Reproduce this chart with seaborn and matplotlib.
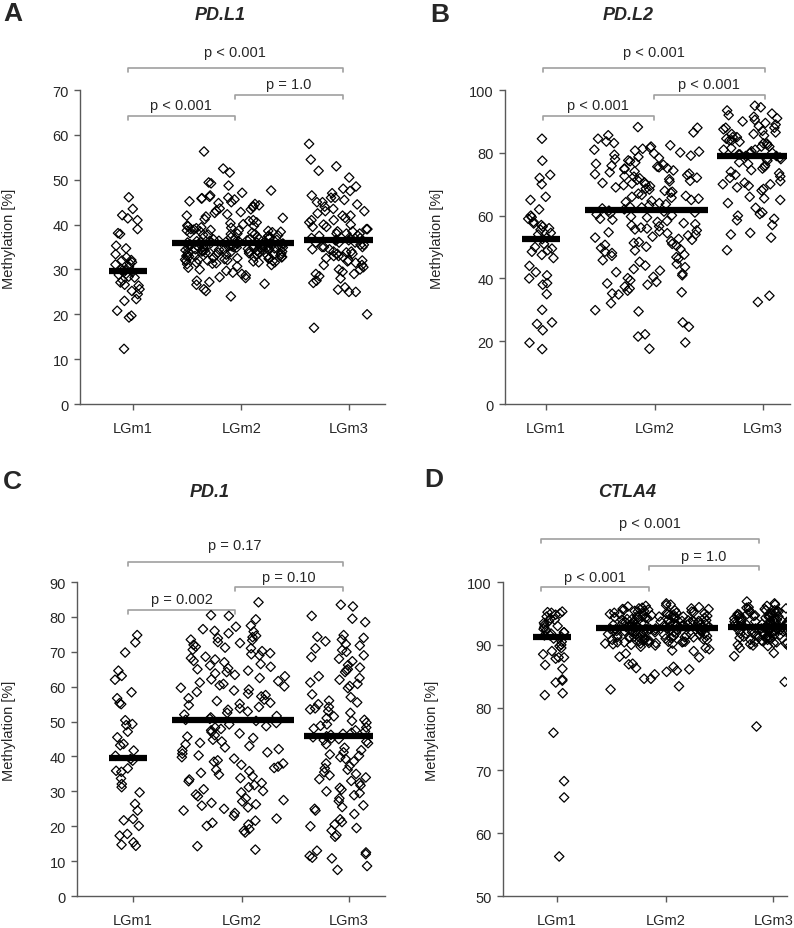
import numpy as np
import pandas as pd
import seaborn as sns
import matplotlib.pyplot as plt
from matplotlib.transforms import blended_transform_factory

sns.set_style("white")
plt.rcParams['font.family'] = ['Liberation Sans', 'DejaVu Sans']

groups = ['LGm1', 'LGm2', 'LGm3']

# ---- PD.L1 (panel A) ----
pdl1_lgm1 = [46.1, 43.5, 42.1, 41.4, 41.0, 39.0, 38.1, 37.9, 35.3, 34.7, 33.4, 32.7, 32.1, 32.0,
             31.6, 31.3, 31.1, 30.6, 30.1, 29.8, 29.7, 29.4, 29.0, 28.8, 28.4, 28.2, 27.6, 27.1,
             26.6, 26.4, 25.6, 25.2, 24.5, 23.4, 23.0, 20.8, 19.7, 19.3, 12.3]
pdl1_lgm2 = [56.3, 52.5, 51.6, 49.4, 49.2, 48.7, 47.6, 47.1, 46.5, 46.2, 46.0, 45.9, 45.8, 45.6,
             45.2, 45.0, 44.8, 44.6, 44.3, 44.1, 43.9, 43.6, 43.4, 43.1, 42.8, 42.6, 42.3, 42.0,
             41.8, 41.5, 41.2, 41.0, 40.8, 40.5, 40.3, 40.1,
             39.8, 39.6, 39.4, 39.2, 39.0, 38.9, 38.7, 38.5, 38.4, 38.2, 38.0, 37.9, 37.8, 37.6,
             37.5, 37.3, 37.2, 37.0, 36.9, 36.8, 36.6, 36.5, 36.4, 36.3, 36.2, 36.1, 36.0, 35.9,
             35.8, 35.8, 35.7, 35.6, 35.5, 35.4, 35.3, 35.2, 35.1, 35.0, 34.9, 34.8, 34.7, 34.6,
             34.5, 34.4, 34.3, 34.2, 34.1, 34.0, 33.9, 33.8, 33.6, 33.5, 33.3, 33.2, 33.0, 32.9,
             32.7, 32.5, 32.4, 32.2, 32.0, 31.8, 31.6, 31.4, 31.2, 31.0,
             35.9, 35.6, 35.3, 35.0, 34.6, 34.2, 33.8, 33.4, 33.0, 32.6, 32.3, 31.9, 31.5, 35.7,
             35.2, 34.9, 34.4, 34.0, 33.7, 33.1, 32.8,
             39.7, 39.3, 38.8, 38.6, 38.3, 38.1, 37.7, 37.4, 37.1, 36.7, 36.4, 36.1, 35.8, 35.5,
             35.2, 34.9, 34.6, 34.3, 34.0, 33.7, 33.4, 33.1, 32.8, 32.5, 32.2, 31.9, 31.6, 31.3,
             36.9, 36.3, 35.6, 35.0, 34.5, 33.9, 37.9, 38.7, 33.3, 32.1, 36.0, 35.4,
             30.7, 30.4, 30.0, 29.7, 29.3, 29.0, 28.7, 28.3, 28.1, 27.5, 27.2, 26.8, 26.6, 25.6,
             25.2, 24.0]
pdl1_lgm3 = [58.0, 54.5, 53.0, 52.0, 50.5, 48.5, 48.0, 47.5, 47.0, 46.5, 46.0, 46.0, 45.5, 45.0,
             45.0, 44.5, 44.0, 43.5, 43.0, 43.0, 42.5, 42.0, 42.0, 41.5, 41.0, 41.0, 40.5, 40.0,
             40.0, 39.5, 39.5, 39.0, 39.0, 38.5, 38.5, 38.0, 38.0, 38.0, 37.5, 37.5, 37.0, 37.0,
             37.0, 36.5, 36.5, 36.5, 36.0, 36.0, 36.0, 35.5, 35.5, 35.0, 35.0, 35.0, 34.5, 34.5,
             34.0, 34.0, 33.5, 33.5, 33.0, 33.0, 32.5, 32.0, 32.0, 31.5, 31.0, 31.0, 30.5, 30.0,
             30.0, 29.5, 29.0, 29.0, 28.5, 28.0, 27.5, 27.0, 26.0, 25.5, 25.0, 25.0, 20.0, 17.0,
             33.8, 32.8, 31.8]
pdl1_medians = [29.7, 35.8, 36.5]

# ---- PD.L2 (panel B) ----
pdl2_lgm1 = [84.5, 77.5, 73.0, 72.0, 70.0, 66.0, 65.0, 62.0, 60.0, 59.5, 59.0, 58.0, 57.5, 57.0,
             56.5, 56.0, 55.5, 54.5, 54.0, 53.0, 52.5, 51.0, 50.0, 49.5, 49.0, 48.5, 47.5, 46.5,
             44.0, 42.0, 41.0, 40.0, 38.5, 38.0, 35.0, 30.0, 26.0, 25.5, 23.5, 19.5, 17.5]
pdl2_lgm2 = [88.2, 88.0, 86.5, 85.6, 84.5, 83.6, 83.1, 82.4, 82.0, 81.6, 81.3, 81.0, 80.7, 80.4,
             80.1, 79.8, 79.4, 79.1, 78.7, 78.4, 78.0, 77.6, 77.3, 76.9, 76.5, 76.2, 75.9, 75.6,
             75.4, 75.1, 75.0, 74.8, 74.4, 74.1, 73.8, 73.4, 73.2, 72.9, 72.6, 72.4, 72.1, 71.9,
             71.6, 71.4, 71.1, 70.9, 70.6, 70.4, 70.2, 70.0, 69.7, 69.4, 69.0, 68.6, 68.3, 67.9,
             67.6, 67.3, 67.0, 66.6, 66.3, 66.0, 65.7, 65.4, 65.0, 64.7, 64.3, 64.0, 63.6, 63.3,
             62.9, 62.6, 62.3, 62.0, 61.6, 61.3, 61.0, 60.7, 60.4, 60.1, 59.7, 59.4, 59.0, 58.7,
             58.3, 58.0, 57.6, 57.3, 56.9, 56.6, 56.2, 55.9, 55.6, 55.3, 55.0, 54.7, 54.4, 54.0,
             53.7, 53.3, 53.0, 52.6, 52.3, 51.9, 51.6, 51.3, 51.0, 50.7, 50.4, 50.1, 49.7, 49.3,
             48.9, 48.5, 48.1, 47.6, 47.2, 46.8, 46.3, 45.8, 45.3, 44.6, 44.1, 43.6, 43.0, 42.5,
             42.0, 41.5, 41.0, 40.5, 40.1, 39.4, 38.9, 38.4, 38.0, 37.4, 36.8, 36.1, 35.6, 35.2,
             34.9, 32.1, 29.9, 29.5, 26.0, 24.6, 22.2, 21.5, 19.6, 17.6]
pdl2_lgm3 = [95.0, 94.5, 93.5, 92.5, 92.0, 91.5, 91.0, 90.5, 90.0, 89.5, 89.0, 88.5, 88.0, 88.0,
             87.5, 87.0, 86.5, 86.0, 86.0, 85.5, 85.0, 85.0, 84.5, 84.0, 84.0, 83.5, 83.0, 83.0,
             82.5, 82.0, 82.0, 81.5, 81.0, 81.0, 80.5, 80.0, 80.0, 79.5, 79.5, 79.0, 79.0, 78.5,
             78.0, 78.0, 77.5, 77.0, 76.5, 76.0, 75.5, 75.0, 74.5, 74.0, 73.5, 73.0, 72.5, 72.0,
             71.0, 70.5, 70.0, 70.0, 69.5, 69.0, 68.5, 68.0, 66.0, 65.5, 65.0, 64.0, 62.5, 61.0,
             60.5, 60.0, 59.0, 58.5, 57.0, 54.5, 54.0, 53.0, 49.0, 34.5, 32.5]
pdl2_medians = [52.5, 61.8, 79.0]

# ---- PD.1 (panel C) ----
pd1_lgm1 = [74.8, 72.7, 69.8, 64.6, 63.1, 62.0, 58.4, 56.7, 55.3, 55.0, 50.4, 49.3, 49.0, 47.1,
            45.5, 43.6, 43.2, 41.7, 40.2, 39.3, 38.8, 36.6, 35.9, 35.6, 33.7, 32.1, 31.2, 29.7,
            26.4, 24.5, 22.1, 21.7, 20.1, 17.8, 17.3, 15.4, 14.7, 14.4]
pd1_lgm2 = [84.2, 80.5, 80.3, 79.3, 77.5, 77.2, 76.5, 76.0, 75.8, 75.3, 74.6, 74.2, 73.9, 73.5,
            73.3, 72.8, 72.5, 72.0, 71.5, 71.2, 71.0, 70.6, 70.2, 69.6, 69.3, 69.0, 68.6, 68.2,
            67.8, 67.4, 67.0, 66.5, 66.1, 65.7, 65.3, 65.0, 64.6, 64.2, 63.8, 63.4, 63.0, 62.5,
            62.1, 61.6, 61.2, 60.8, 60.4, 60.1, 59.7, 59.2, 58.9, 58.5, 58.0, 57.6, 57.2, 56.7,
            56.3, 55.9, 55.4, 55.1, 54.7, 54.2, 53.8, 53.4, 52.9, 52.5, 52.0, 51.6, 51.2, 50.8,
            50.5, 50.2, 49.6, 49.2, 48.7, 48.3, 47.9, 47.5, 47.0, 46.6, 46.1, 45.7, 45.3, 44.8,
            44.3, 43.9, 43.5, 43.0, 42.6, 42.1, 41.7, 41.2, 40.8, 40.3, 39.8, 39.4, 38.9, 38.5,
            38.0, 37.6, 37.1, 36.7, 36.2, 35.8, 35.3, 34.8, 34.3, 33.8, 33.4, 32.9, 32.4, 31.8,
            31.2, 30.6, 30.1, 29.7, 29.1, 28.6, 28.0, 27.5, 27.1, 26.7, 26.3, 25.9, 25.4, 25.0,
            24.5, 23.8, 23.0, 22.2, 21.6, 21.0, 20.5, 20.1, 19.2, 18.7, 18.2, 14.3, 13.3]
pd1_lgm3 = [83.5, 83.0, 80.3, 79.5, 78.5, 74.8, 74.3, 74.0, 73.5, 73.0, 72.2, 71.8, 71.0, 70.5,
            70.0, 69.0, 68.5, 68.0, 67.3, 66.2, 65.5, 65.0, 64.7, 64.2, 63.0, 62.5, 62.0, 61.2,
            60.8, 60.2, 59.6, 57.8, 57.0, 56.0, 55.5, 55.0, 54.2, 53.8, 53.5, 53.0, 52.5, 51.5,
            51.0, 50.5, 50.2, 49.7, 49.2, 48.8, 48.3, 48.0, 47.5, 47.2, 46.8, 46.5, 46.2, 45.8,
            45.5, 45.2, 45.0, 44.7, 44.3, 43.8, 43.5, 42.5, 41.8, 41.2, 40.6, 40.2, 39.8, 39.3,
            38.6, 38.0, 37.3, 36.6, 36.2, 35.5, 35.0, 34.6, 34.0, 33.5, 33.0, 32.4, 31.7, 31.0,
            30.5, 30.0, 29.5, 28.9, 28.0, 27.2, 26.0, 25.5, 25.0, 24.5, 23.5, 22.0, 21.2, 20.5,
            20.0, 19.5, 18.8, 17.5, 17.0, 13.0, 12.5, 12.0, 11.5, 11.0, 10.8, 8.6, 7.5]
pd1_medians = [39.5, 50.5, 46.0]

# ---- CTLA4 (panel D) ----
ctla4_lgm1 = [95.3, 95.2, 95.1, 95.0, 94.8, 94.5, 94.2, 94.0, 93.8, 93.5, 93.2, 93.0, 92.8, 92.5,
              92.3, 92.0, 92.0, 91.8, 91.5, 91.5, 91.3, 91.0, 90.5, 90.0, 89.8, 89.5, 89.0, 88.5,
              88.0, 88.0, 87.8, 86.8, 86.2, 84.5, 84.3, 84.0, 82.3, 82.0, 76.0, 68.3, 65.7, 56.3]
ctla4_lgm2 = [96.6, 96.4, 96.2, 96.1, 96.0, 96.3,
              95.9, 95.8, 95.7, 95.6, 95.5, 95.4, 95.3, 95.2, 95.1, 95.0, 95.6, 95.3, 95.8, 95.1,
              94.9, 94.8, 94.7, 94.6, 94.5, 94.4, 94.3, 94.2, 94.1, 94.0, 94.8, 94.6, 94.4, 94.2,
              94.9, 94.5, 94.3, 94.1,
              93.9, 93.8, 93.7, 93.6, 93.5, 93.4, 93.3, 93.2, 93.1, 93.0, 93.9, 93.7, 93.5, 93.3,
              93.1, 93.8, 93.6, 93.4, 93.2, 93.0, 93.5, 93.3,
              92.9, 92.8, 92.7, 92.6, 92.5, 92.4, 92.3, 92.2, 92.1, 92.0, 92.9, 92.7, 92.5, 92.3,
              92.1, 92.8, 92.6, 92.4, 92.2, 92.0,
              91.9, 91.8, 91.7, 91.6, 91.5, 91.4, 91.3, 91.2, 91.1, 91.0, 91.9, 91.7, 91.5, 91.3,
              91.1, 91.8, 91.6, 91.4, 91.2, 91.0,
              90.9, 90.8, 90.7, 90.6, 90.5, 90.4, 90.3, 90.2, 90.1, 90.0, 90.8, 90.6, 90.4, 90.2,
              90.5, 90.3, 89.9, 89.7, 89.5, 89.3, 89.1, 89.0,
              95.4, 95.0, 94.7, 94.3, 94.0, 93.8, 93.5, 93.2, 92.9, 92.6, 92.3, 92.0, 91.7, 91.4,
              91.1, 90.8, 90.5, 90.2, 95.7, 94.9, 94.5, 93.9, 93.4, 93.0, 92.5, 92.1, 91.6, 91.2,
              90.7, 90.4,
              88.6, 88.1, 88.0, 87.0, 86.9, 86.5, 86.3, 86.1, 85.9, 85.7, 85.3, 84.6, 84.6, 83.4,
              82.9]
ctla4_lgm3 = [96.9, 96.6, 96.4, 96.2, 96.0, 95.9, 95.7, 95.6, 95.4, 95.3, 95.1, 95.0, 95.8, 95.5,
              95.2, 94.9, 94.8, 94.6, 94.5, 94.4, 94.2, 94.1, 94.0, 94.7, 94.3, 94.9, 94.5, 94.2,
              94.6, 93.9, 93.8, 93.7, 93.6, 93.5, 93.4, 93.3, 93.2, 93.1, 93.0, 93.8, 93.6, 93.4,
              93.2, 93.9, 93.5, 93.1, 92.9, 92.8, 92.7, 92.6, 92.5, 92.4, 92.3, 92.2, 92.1, 92.0,
              92.8, 92.6, 92.4, 92.2, 92.7, 92.3, 91.9, 91.8, 91.7, 91.5, 91.4, 91.3, 91.2, 91.0,
              91.8, 91.6, 91.4, 91.2, 91.9, 91.1, 90.9, 90.8, 90.6, 90.5, 90.3, 90.2, 90.0, 90.7,
              90.4, 90.1, 89.9, 89.7, 89.5, 89.8,
              95.5, 95.0, 94.6, 94.1, 93.7, 93.3, 92.9, 92.5, 92.0, 91.6, 91.2, 90.8, 90.3, 94.3,
              93.0, 91.9,
              88.7, 88.2, 84.1, 77.0]
ctla4_medians = [91.2, 92.7, 92.9]

# p-values: [LGm1 vs LGm2, LGm2 vs LGm3, LGm1 vs LGm3]
pdl1_p = ['p < 0.001', 'p = 1.0', 'p < 0.001']
pdl2_p = ['p < 0.001', 'p < 0.001', 'p < 0.001']
pd1_p = ['p = 0.002', 'p = 0.10', 'p = 0.17']
ctla4_p = ['p < 0.001', 'p = 1.0', 'p < 0.001']

panels = [
    dict(letter='A', title='PD.L1', data=[pdl1_lgm1, pdl1_lgm2, pdl1_lgm3], med=pdl1_medians,
         p=pdl1_p, ylim=(0, 70), yticks=range(0, 71, 10),
         rect=[0.1008, 0.5640, 0.3841, 0.3380], xlim=(-0.45, 2.44),
         br_y=[0.917, 0.984, 1.070], txt_y=[0.952, 1.019, 1.121], br_x=[0.0, 1.02, 2.04],
         title_xy=(220, 15), letter_xy=(13, 14), ylab_x=-0.21),
    dict(letter='B', title='PD.L2', data=[pdl2_lgm1, pdl2_lgm2, pdl2_lgm3], med=pdl2_medians,
         p=pdl2_p, ylim=(0, 100), yticks=range(0, 101, 20),
         rect=[0.6360, 0.5640, 0.3589, 0.3380], xlim=(-0.34, 2.36),
         br_y=[0.917, 0.984, 1.070], txt_y=[0.952, 1.019, 1.121], br_x=[0.02, 1.07, 2.12],
         title_xy=(628, 16), letter_xy=(440, 15), ylab_x=-0.214),
    dict(letter='C', title='PD.1', data=[pd1_lgm1, pd1_lgm2, pd1_lgm3], med=pd1_medians,
         p=pd1_p, ylim=(0, 90), yticks=range(0, 91, 10),
         rect=[0.0970, 0.0344, 0.3879, 0.3380], xlim=(-0.48, 2.44),
         br_y=[0.911, 0.984, 1.064], txt_y=[0.946, 1.016, 1.118], br_x=[0.0, 1.02, 2.04],
         title_xy=(210, 493), letter_xy=(12, 482), ylab_x=-0.198),
    dict(letter='D', title='CTLA4', data=[ctla4_lgm1, ctla4_lgm2, ctla4_lgm3], med=ctla4_medians,
         p=ctla4_p, ylim=(50, 100), yticks=range(50, 101, 10),
         rect=[0.6335, 0.0344, 0.3577, 0.3380], xlim=(-0.46, 2.23),
         br_y=[0.984, 1.051, 1.137], txt_y=[1.016, 1.083, 1.188], br_x=[-0.1, 0.92, 1.96],
         title_xy=(627, 493), letter_xy=(434, 480), ylab_x=-0.225),
]

jitter_w = [0.12, 0.5, 0.28]
median_hw = [0.18, 0.58, 0.33]
tick_x = [0.05, 1.08, 2.1]
axis_col = '#595959'
W, H = 794, 929

np.random.seed(3)
fig = plt.figure(figsize=(W / 100, H / 100), dpi=100)

for pan in panels:
    ax = fig.add_axes(pan['rect'])
    for i, g in enumerate(groups):
        df = pd.DataFrame({'group': g, 'value': pan['data'][i]})
        sns.stripplot(data=df, x='group', y='value', order=groups, jitter=jitter_w[i],
                      marker='D', size=4.8, color='black', linewidth=0.9, ax=ax, zorder=3)
    for coll in ax.collections:
        coll.set_facecolor('none')
        coll.set_edgecolor('black')
        coll.set_linewidth(0.9)
    for i, m in enumerate(pan['med']):
        ax.hlines(m, i - median_hw[i], i + median_hw[i], colors='black', linewidth=4.5, zorder=5)

    ax.set_xlim(*pan['xlim'])
    ax.set_ylim(*pan['ylim'])
    ax.set_yticks(list(pan['yticks']))
    ax.set_xticks(tick_x)
    ax.set_xticklabels(groups)
    ax.set_xlabel('')
    ax.set_ylabel('Methylation [%]', fontsize=10.5)
    ax.yaxis.set_label_coords(pan['ylab_x'], 0.53)
    sns.despine(ax=ax)
    for s in ['left', 'bottom']:
        ax.spines[s].set_color(axis_col)
        ax.spines[s].set_linewidth(1.0)
    ax.tick_params(axis='y', direction='out', length=4, width=1, color=axis_col,
                   labelsize=10.5, pad=4, left=True)
    ax.tick_params(axis='x', direction='out', length=4, width=1, color=axis_col,
                   labelsize=10.5, pad=8, bottom=True)

    # significance brackets
    tr = blended_transform_factory(ax.transData, ax.transAxes)
    pairs = [(0, 1), (1, 2), (0, 2)]
    h = 0.012
    for k, (a, b) in enumerate(pairs):
        x0, x1 = pan['br_x'][a], pan['br_x'][b]
        y = pan['br_y'][k]
        ax.plot([x0, x0, x1, x1], [y - h, y, y, y - h], color='#a0a0a0', lw=1.2,
                transform=tr, clip_on=False)
        ax.text((x0 + x1) / 2, pan['txt_y'][k], pan['p'][k], transform=tr,
                ha='center', va='center', fontsize=10.5)

    tx, ty = pan['title_xy']
    fig.text(tx / W, 1 - ty / H, pan['title'], ha='center', va='center',
             fontsize=13, fontweight='bold', fontstyle='italic')
    lx, ly = pan['letter_xy']
    fig.text(lx / W, 1 - ly / H, pan['letter'], ha='center', va='center',
             fontsize=19, fontweight='bold')

fig.savefig('out.png', dpi=100)
